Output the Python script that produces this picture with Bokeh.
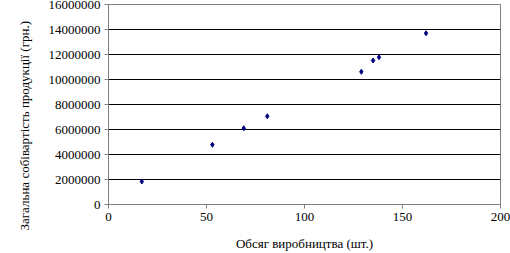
from bokeh.plotting import figure
from bokeh.models import Range1d, FixedTicker, NumeralTickFormatter, Title
from bokeh.embed import file_html
from bokeh.resources import INLINE

volume = [17, 53, 69, 81, 129, 135, 138, 162]
cost = [1840000, 4780000, 6100000, 7060000, 10620000, 11520000, 11780000, 13700000]
x_ticks = [0, 50, 100, 150, 200]
y_ticks = [0, 2000000, 4000000, 6000000, 8000000, 10000000, 12000000, 14000000, 16000000]
x_title = "Обсяг виробництва (шт.)"
y_title = "Загальна собівартість продукції (грн.)"

FONT = "Liberation Serif"

p = figure(width=510, height=253, output_backend="svg", toolbar_location=None,
           x_range=Range1d(0, 200), y_range=Range1d(0, 16000000))
p.min_border_left = 107
p.min_border_right = 10
p.min_border_top = 4
p.min_border_bottom = 49
p.background_fill_color = "white"
p.border_fill_color = "white"
p.outline_line_color = "#808080"
p.outline_line_width = 1

p.xaxis.ticker = FixedTicker(ticks=x_ticks)
p.yaxis.ticker = FixedTicker(ticks=y_ticks)
p.yaxis.formatter = NumeralTickFormatter(format="0")
for ax in (p.xaxis[0], p.yaxis[0]):
    ax.axis_line_color = "#808080"
    ax.major_tick_line_color = "#808080"
    ax.major_tick_in = 0
    ax.major_tick_out = 4
    ax.minor_tick_line_color = None
    ax.major_label_text_font = FONT
    ax.major_label_text_font_size = "13px"
    ax.major_label_text_color = "black"
    ax.major_label_standoff = 4
    ax.axis_label_text_font = FONT
    ax.axis_label_text_font_size = "13px"
    ax.axis_label_text_font_style = "normal"
    ax.axis_label_text_color = "black"
p.xaxis.axis_label = x_title
p.xaxis.axis_label_standoff = 12

ytitle = Title(text=y_title, align="left", offset=-26, standoff=28,
               text_font=FONT, text_font_size="13px", text_font_style="normal",
               text_color="black")
p.add_layout(ytitle, "left")

p.xgrid.grid_line_color = None
p.ygrid.grid_line_color = "black"
p.ygrid.grid_line_width = 1

p.scatter(volume, cost, marker="diamond", size=5, color="#000080")

open("out.html", "w").write(file_html(p, INLINE))
